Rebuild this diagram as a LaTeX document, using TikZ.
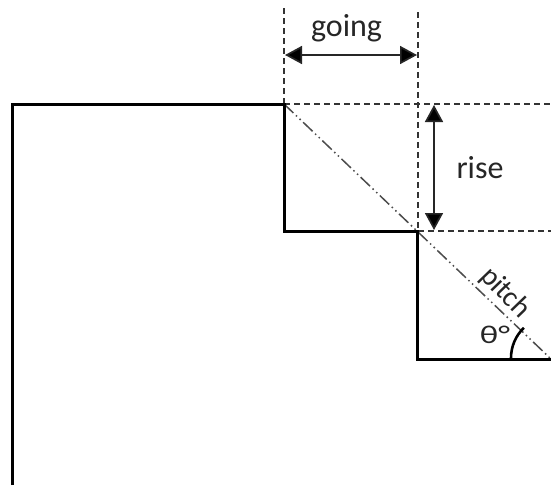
\documentclass[tikz,border=0pt]{standalone}
\usepackage{fontspec}
\setmainfont{Carlito}
\usetikzlibrary{arrows.meta}
\tikzset{
  stair/.style={line width=3pt,line join=miter,line cap=butt,black},
  guide/.style={line width=1.3pt,dash pattern=on 6pt off 4pt,black!80},
  pitchline/.style={line width=1.5pt,dash pattern=on 13pt off 3.5pt on 1.5pt off 3.5pt on 1.5pt off 3.5pt,black!70},
  dim/.style={line width=1.7pt,black!85,{Triangle[length=17pt,width=18pt,fill=black]}-{Triangle[length=17pt,width=18pt,fill=black]}},
  lab/.style={inner sep=0pt,text=black!85,font=\fontsize{32}{36}\selectfont}
}
\begin{document}
\begin{tikzpicture}[x=1pt,y=-1pt]
\useasboundingbox (0,0) rectangle (551,485);
\fill[white] (0,0) rectangle (551,485);
\coordinate (bl) at (12.5,485);
\coordinate (tl) at (12.5,104);
\coordinate (s1) at (284,104);
\coordinate (s2) at (284,231);
\coordinate (s3) at (417,231);
\coordinate (s4) at (417,359);
\coordinate (s5) at (551,359);
\coordinate (g1t) at (284,8);
\coordinate (g2t) at (418,12);
\coordinate (g2b) at (418,231);
\coordinate (r1e) at (551,104);
\coordinate (r2e) at (551,231);
\coordinate (ga) at (285,55);
\coordinate (gb) at (417,55);
\coordinate (ra) at (434,105);
\coordinate (rb) at (434,230);
\draw[guide] (g1t) -- (s1);
\draw[guide] (g2t) -- (g2b);
\draw[guide] (s1) -- (r1e);
\draw[guide] (g2b) -- (r2e);
\draw[pitchline] (s1) -- (s5);
\draw[stair] (bl) -- (tl) -- (s1) -- (s2) -- (s3) -- (s4) -- (s5);
\draw[dim] (ga) -- (gb);
\draw[dim] (ra) -- (rb);
\node[lab] (going) at (346.5,28) {going};
\node[lab] (rise) at (480,168) {rise};
\node[lab,rotate=-46,font=\fontsize{29}{32}\selectfont] (pitch) at (505,293) {pitch};
\node[lab,xscale=1.15,yscale=.85,font=\fontsize{30}{32}\selectfont] (theta) at (495,335) {θ°};
\draw[line width=2.6pt,black] (511,358) arc[start angle=180,end angle=226,radius=42];
\end{tikzpicture}
\end{document}
